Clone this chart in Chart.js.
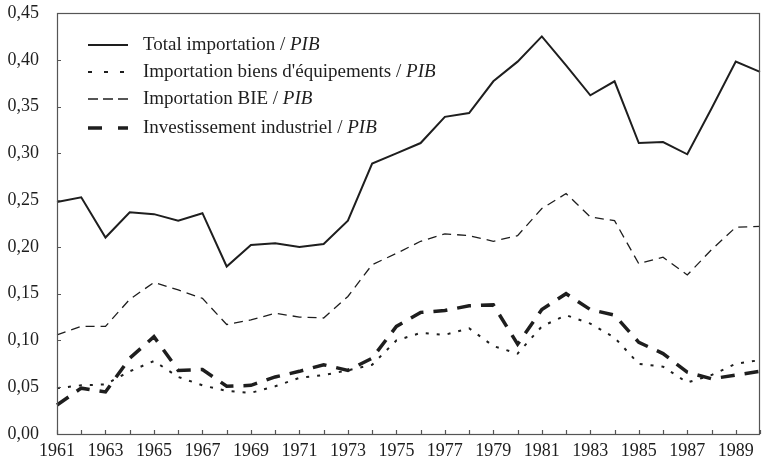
<!DOCTYPE html>
<html>
<head>
<meta charset="utf-8">
<script src="https://cdn.jsdelivr.net/npm/chart.js@4/dist/chart.umd.min.js"></script>
<style>
  body { margin: 0; background: #fff; }
</style>
</head>
<body>
<canvas id="chart" width="764" height="468"></canvas>
<script>
// ===== Data =====
const years = [1961,1962,1963,1964,1965,1966,1967,1968,1969,1970,1971,1972,1973,1974,1975,
  1976,1977,1978,1979,1980,1981,1982,1983,1984,1985,1986,1987,1988,1989,1990];

const totalImport = [0.248,0.253,0.210,0.237,0.235,0.228,0.236,0.179,0.202,0.204,0.200,0.203,0.228,0.289,0.300,
  0.311,0.339,0.343,0.377,0.398,0.425,0.394,0.362,0.377,0.311,0.312,0.299,0.348,0.398,0.387];

const importEquip = [0.049,0.052,0.053,0.067,0.078,0.061,0.052,0.046,0.044,0.051,0.060,0.063,0.068,0.074,0.100,
  0.108,0.106,0.113,0.094,0.086,0.115,0.127,0.118,0.103,0.075,0.072,0.055,0.063,0.075,0.079];

const importBIE = [0.106,0.115,0.115,0.144,0.162,0.154,0.145,0.117,0.122,0.129,0.125,0.124,0.147,0.181,0.193,
  0.206,0.214,0.212,0.206,0.212,0.241,0.257,0.232,0.228,0.182,0.189,0.170,0.197,0.221,0.222];

const investInd = [0.031,0.049,0.045,0.081,0.104,0.068,0.069,0.051,0.052,0.061,0.067,0.074,0.068,0.081,0.115,
  0.130,0.132,0.137,0.138,0.096,0.133,0.150,0.133,0.127,0.098,0.086,0.066,0.059,0.063,0.067];

const seriesLabels = [
  "Total importation / ",
  "Importation biens d'équipements / ",
  "Importation BIE / ",
  "Investissement industriel / "
];

const serif = '"Liberation Serif", "Times New Roman", serif';
const ink = "#1e1e1e";

const styles = [
  { width: 2,   dash: [] },
  { width: 2,   dash: [3, 8] },
  { width: 1.3, dash: [9, 6] },
  { width: 3.5, dash: [14, 10] }
];
// legend samples use slightly different dash spacing
const legendDash = [[], [4, 12], [10, 5], [14, 16]];

// ===== Plugins =====
// inward ticks + frame
const framePlugin = {
  id: "frame",
  afterDraw(chart) {
    const { ctx, chartArea: a, scales } = chart;
    ctx.save();
    ctx.strokeStyle = "#555";
    ctx.lineWidth = 1.2;
    ctx.strokeRect(a.left + 0.5, a.top + 0.5, a.right - a.left - 1, a.bottom - a.top);
    ctx.beginPath();
    years.forEach((yr, i) => {
      const x = Math.round(scales.x.getPixelForValue(i)) + 0.5;
      ctx.moveTo(x, a.bottom);
      ctx.lineTo(x, a.bottom - 4);
    });
    for (let v = 0; v <= 0.45001; v += 0.05) {
      const y = Math.round(scales.y.getPixelForValue(v)) + 0.5;
      ctx.moveTo(a.left, y);
      ctx.lineTo(a.left + 4, y);
    }
    ctx.stroke();
    ctx.restore();
  }
};

// legend in the top-left of the plot
const legendPlugin = {
  id: "innerLegend",
  afterDatasetsDraw(chart) {
    const { ctx } = chart;
    const rows = [45, 72, 99, 128];
    ctx.save();
    seriesLabels.forEach((txt, i) => {
      const y = rows[i];
      ctx.strokeStyle = ink;
      ctx.lineWidth = styles[i].width;
      ctx.setLineDash(legendDash[i]);
      ctx.beginPath();
      ctx.moveTo(88, y);
      ctx.lineTo(128, y);
      ctx.stroke();
      ctx.setLineDash([]);
      ctx.fillStyle = ink;
      ctx.textBaseline = "middle";
      ctx.font = "19px " + serif;
      ctx.fillText(txt, 143, y);
      const w = ctx.measureText(txt).width;
      ctx.font = "italic 19px " + serif;
      ctx.fillText("PIB", 143 + w, y);
    });
    ctx.restore();
  }
};

// ===== Chart =====
const allData = [totalImport, importEquip, importBIE, investInd];

new Chart(document.getElementById("chart"), {
  type: "line",
  data: {
    labels: years,
    datasets: allData.map((d, i) => ({
      label: seriesLabels[i] + "PIB",
      data: d,
      borderColor: ink,
      borderWidth: styles[i].width,
      borderDash: styles[i].dash,
      pointRadius: 0,
      tension: 0,
      fill: false
    }))
  },
  options: {
    responsive: false,
    animation: false,
    layout: { padding: { top: 13, right: 4, left: 0, bottom: 0 } },
    plugins: { legend: { display: false }, tooltip: { enabled: false } },
    scales: {
      x: {
        type: "category",
        offset: false,
        grid: { display: false },
        border: { display: false },
        afterFit(scale) { scale.height = 34; },
        ticks: {
          autoSkip: false,
          maxRotation: 0,
          padding: -2,
          color: ink,
          font: { family: serif, size: 18 },
          callback(v, i) { return years[i] % 2 === 1 ? String(years[i]) : ""; }
        }
      },
      y: {
        min: 0,
        max: 0.45,
        grid: { display: false },
        border: { display: false },
        afterFit(scale) {
          scale.width = 57;
          scale.paddingTop = 0;
          scale.paddingBottom = 0;
        },
        ticks: {
          stepSize: 0.05,
          padding: 10,
          color: ink,
          font: { family: serif, size: 18 },
          callback: v => v.toFixed(2).replace(".", ",")
        }
      }
    }
  },
  plugins: [framePlugin, legendPlugin]
});
</script>
</body>
</html>
